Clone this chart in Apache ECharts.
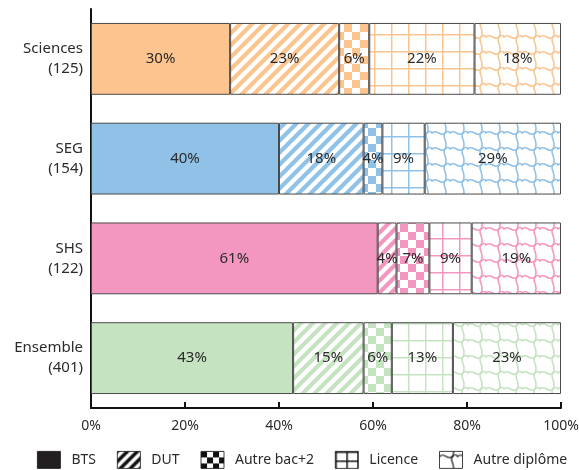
<!DOCTYPE html>
<html>
<head>
<meta charset="utf-8">
<script src="https://cdn.jsdelivr.net/npm/echarts@6/dist/echarts.min.js"></script>
<style>
html,body{margin:0;padding:0;background:#fff;}
#chart{width:579px;height:470px;}
</style>
</head>
<body>
<div id="chart"></div>
<script>
// ---- data ----
const categories = ['Sciences', 'SEG', 'SHS', 'Ensemble'];
const counts = [125, 154, 122, 401];
const seriesNames = ['BTS', 'DUT', 'Autre bac+2', 'Licence', 'Autre diplôme'];
const bts     = [29.6, 40, 61, 43];
const dut     = [23.2, 18, 4, 15];
const bac2    = [6.4, 4, 7, 6];
const licence = [22.4, 9, 9, 13];
const autre   = [18.4, 29, 19, 23];
const xTickValues = [0, 20, 40, 60, 80, 100];

// ---- styles ----
const catColors = ['#fcc590', '#90c1e7', '#f497c0', '#c5e3c1'];
const FONT = 'Noto Sans';
const TEXT = '#2b2b2b';

function mk(w, h, draw) {
  const c = document.createElement('canvas');
  c.width = w; c.height = h;
  const g = c.getContext('2d');
  draw(g, w, h);
  return { image: c, repeat: 'repeat' };
}
function solid(col) { return col; }
function stripes(col, p, lw) {
  p = p || 12; lw = lw || 4.2;
  return mk(p, p, (g, w, h) => {
    g.strokeStyle = col; g.lineWidth = lw; g.lineCap = 'butt';
    for (let o = -p; o <= p; o += p) {
      g.beginPath(); g.moveTo(o - 2, h + 2); g.lineTo(o + w + 2, -2); g.stroke();
    }
  });
}
function checker(col, s) {
  s = s || 8;
  return mk(2 * s, 2 * s, (g) => {
    g.fillStyle = col;
    g.fillRect(0, 0, s, s); g.fillRect(s, s, s, s);
  });
}
function gridPat(col, s, lw) {
  s = s || 17; lw = lw || 1.5;
  return mk(s, s, (g, w, h) => {
    g.fillStyle = col;
    g.fillRect(0, 0, w, lw); g.fillRect(0, 0, lw, h);
  });
}
function wave(col, lw) {
  lw = lw || 1.6;
  return mk(18, 16, (g, w, h) => {
    g.strokeStyle = col; g.lineWidth = lw; g.lineCap = 'round';
    for (let dy = -16; dy <= 16; dy += 16) {
      for (let dx = -18; dx <= 18; dx += 18) {
        g.beginPath();
        g.moveTo(dx + 0, dy + 5);
        g.bezierCurveTo(dx + 5, dy + 0, dx + 8, dy + 10, dx + 13, dy + 5);
        g.bezierCurveTo(dx + 15, dy + 3, dx + 17, dy + 3, dx + 18, dy + 5);
        g.stroke();
        g.beginPath();
        g.moveTo(dx + 13, dy + 5);
        g.bezierCurveTo(dx + 9, dy + 9, dx + 17, dy + 13, dx + 13, dy + 21);
        g.stroke();
      }
    }
  });
}
const makers = [solid, stripes, checker, gridPat, wave];
const seriesData = [bts, dut, bac2, licence, autre];

const legendFills = [
  '#231f20',
  stripes('#111', 10, 3.5),
  checker('#111', 6),
  mk(11, 9, (g) => { g.fillStyle = '#fff'; g.fillRect(0, 0, 11, 9); g.fillStyle = '#111'; g.fillRect(0, 0, 1.5, 9); g.fillRect(0, 0, 11, 1.5); }),
  wave('#111', 1.2)
];

const series = seriesNames.map((name, si) => ({
  name: name,
  type: 'bar',
  stack: 'total',
  barCategoryGap: '28%',
  itemStyle: { color: legendFills[si], borderColor: '#4a4a4a', borderWidth: 1 },
  label: {
    show: true, position: 'inside', color: TEXT, fontFamily: FONT, fontSize: 15,
    formatter: (p) => Math.round(p.value) + '%'
  },
  data: seriesData[si].map((v, ci) => ({
    value: v,
    itemStyle: { color: makers[si](catColors[ci]) }
  }))
}));

const chart = echarts.init(document.getElementById('chart'), null, { renderer: 'canvas' });
chart.setOption({
  animation: false,
  backgroundColor: '#fff',
  grid: { left: 91, right: 18, top: 9, bottom: 62, containLabel: false, outerBoundsMode: 'none' },
  legend: {
    top: 446,
    left: 32,
    itemWidth: 23, itemHeight: 17, itemGap: 21,
    textStyle: { color: TEXT, fontFamily: FONT, fontSize: 14, padding: [0, 0, 0, 6] },
    itemStyle: { borderColor: '#111', borderWidth: 0.8 },
    data: seriesNames.map((n, i) => ({ name: n, icon: 'rect', itemStyle: { color: legendFills[i] } }))
  },
  xAxis: {
    type: 'value', min: 0, max: 100, interval: 20,
    axisLine: { show: true, lineStyle: { color: '#111', width: 2 } },
    axisTick: { show: true, inside: true, length: 6, lineStyle: { color: '#111', width: 2 } },
    axisLabel: {
      show: true, margin: 11, color: TEXT, fontFamily: FONT, fontSize: 14,
      customValues: xTickValues, formatter: (v) => Math.round(v) + '%'
    },
    splitLine: { show: false }
  },
  yAxis: {
    type: 'category', inverse: true,
    data: categories.map((c, i) => c + '\n(' + counts[i] + ')'),
    axisLine: { show: true, lineStyle: { color: '#111', width: 2 } },
    axisTick: { show: false },
    axisLabel: { color: TEXT, fontFamily: FONT, fontSize: 15, lineHeight: 20, margin: 8, align: 'right' }
  },
  series: series
});
</script>
</body>
</html>
